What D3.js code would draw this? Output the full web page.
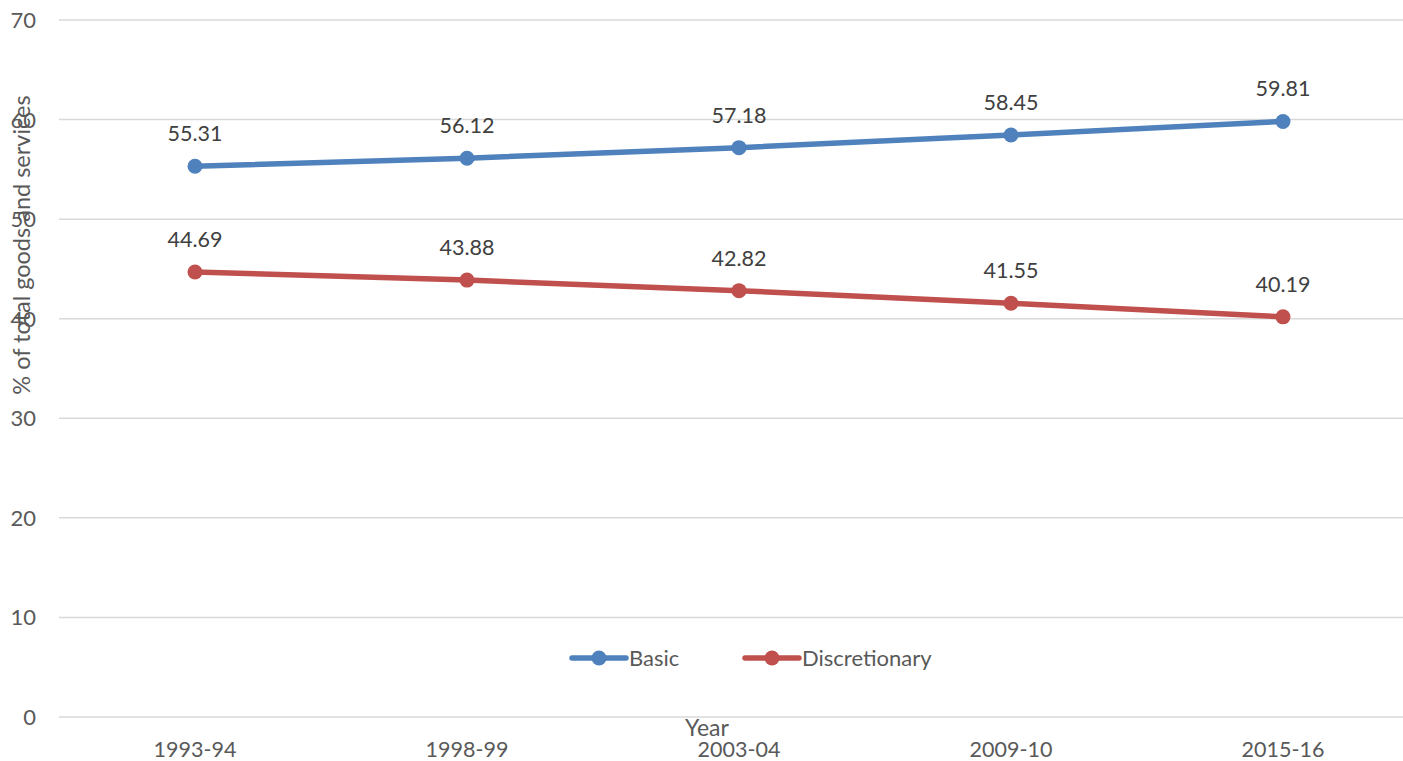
<!DOCTYPE html>
<html>
<head>
<meta charset="utf-8">
<script src="https://cdn.jsdelivr.net/npm/d3@7"></script>
<style>
  html, body { margin: 0; padding: 0; background: #fff; }
  svg { display: block; font-family: Lato, "Open Sans", sans-serif; }
</style>
</head>
<body>
<svg id="chart" width="1403" height="761"></svg>
<script>
// Share of basic vs discretionary spending in total goods and services
const years = ["1993-94", "1998-99", "2003-04", "2009-10", "2015-16"];
const basic = [55.31, 56.12, 57.18, 58.45, 59.81];
const discretionary = [44.69, 43.88, 42.82, 41.55, 40.19];
const yTicks = [0, 10, 20, 30, 40, 50, 60, 70];

const series = [
  { name: "Basic", values: basic, color: "#4F81BD" },
  { name: "Discretionary", values: discretionary, color: "#C0504D" }
];

const svg = d3.select("#chart");
const textColor = "#595959";

const x = d3.scaleBand().domain(years).range([59, 1419]);
const y = d3.scaleLinear().domain([0, 70]).range([717, 20]);
const cx = d => x(d) + x.bandwidth() / 2;

// Horizontal gridlines
svg.append("g")
  .selectAll("line")
  .data(yTicks)
  .join("line")
  .attr("x1", 59).attr("x2", 1403)
  .attr("y1", d => y(d)).attr("y2", d => y(d))
  .attr("stroke", "#d9d9d9").attr("stroke-width", 1.5);

// Y tick labels
svg.append("g")
  .selectAll("text")
  .data(yTicks)
  .join("text")
  .attr("x", 36).attr("y", d => y(d) + 8)
  .attr("text-anchor", "end")
  .attr("font-size", 22).attr("fill", textColor)
  .text(d => d);

// X category labels
svg.append("g")
  .selectAll("text")
  .data(years)
  .join("text")
  .attr("x", d => cx(d)).attr("y", 757)
  .attr("text-anchor", "middle")
  .attr("font-size", 21.5).attr("fill", textColor)
  .text(d => d);

// Axis titles
svg.append("text")
  .attr("x", 707).attr("y", 736)
  .attr("text-anchor", "middle")
  .attr("font-size", 23).attr("fill", textColor)
  .text("Year");

svg.append("text")
  .attr("transform", "translate(30,245) rotate(-90)")
  .attr("text-anchor", "middle")
  .attr("font-size", 23.5).attr("fill", textColor)
  .text("% of total goods and services");

// Lines, markers and value labels
const line = d3.line().x((d, i) => cx(years[i])).y(d => y(d));

series.forEach(s => {
  const g = svg.append("g");
  g.append("path")
    .attr("d", line(s.values))
    .attr("fill", "none")
    .attr("stroke", s.color)
    .attr("stroke-width", 5.5)
    .attr("stroke-linecap", "round");
  g.selectAll("circle")
    .data(s.values)
    .join("circle")
    .attr("cx", (d, i) => cx(years[i]))
    .attr("cy", d => y(d))
    .attr("r", 7.5)
    .attr("fill", s.color);
  g.selectAll("text")
    .data(s.values)
    .join("text")
    .attr("x", (d, i) => cx(years[i]))
    .attr("y", d => y(d) - 25)
    .attr("text-anchor", "middle")
    .attr("font-size", 21.5).attr("fill", "#404040")
    .text(d => d.toFixed(2));
});

// Legend
const legend = [
  { s: series[0], x0: 572 },
  { s: series[1], x0: 745 }
];
legend.forEach(({ s, x0 }) => {
  const g = svg.append("g").attr("transform", `translate(${x0},658)`);
  g.append("line")
    .attr("x1", 0).attr("x2", 54)
    .attr("stroke", s.color).attr("stroke-width", 5.5)
    .attr("stroke-linecap", "round");
  g.append("circle").attr("cx", 27).attr("r", 7.5).attr("fill", s.color);
  g.append("text")
    .attr("x", 57).attr("y", 7.5)
    .attr("font-size", 22).attr("fill", textColor)
    .text(s.name);
});
</script>
</body>
</html>
